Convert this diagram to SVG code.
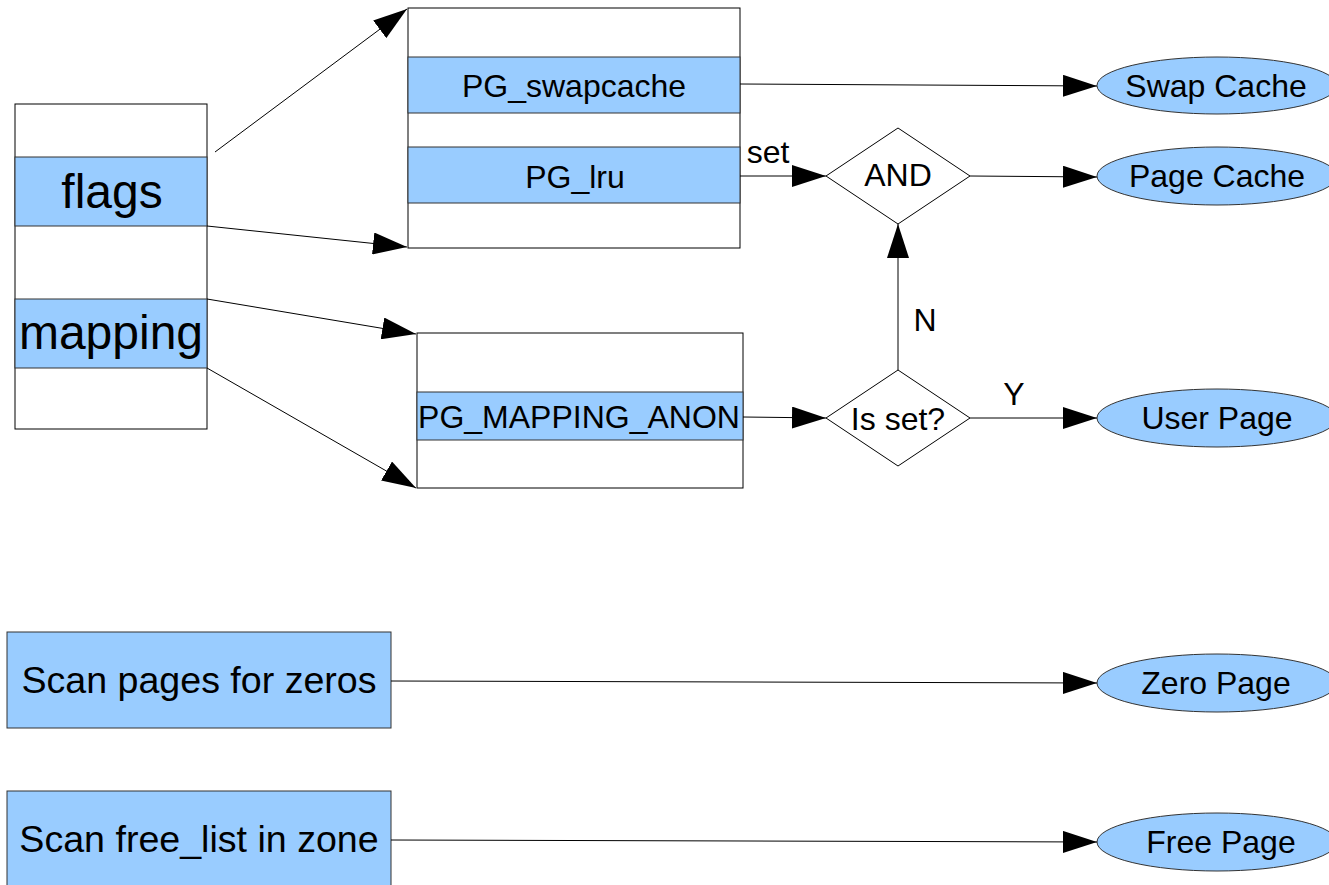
<svg xmlns="http://www.w3.org/2000/svg" width="1329" height="885" viewBox="0 0 1329 885">
  <style>
    .box { fill: #ffffff; stroke: #000; stroke-width: 1; }
    .band { fill: #99ccff; stroke: #333; stroke-width: 1; }
    .oval { fill: #99ccff; stroke: #333; stroke-width: 1; }
    .dia { fill: #ffffff; stroke: #000; stroke-width: 1; }
    .wire { fill: none; stroke: #000; stroke-width: 1; marker-end: url(#arrow); }
    .lbl { font-family: "Liberation Sans", Arial, sans-serif; font-size: 32px; fill: #000; text-anchor: middle; }
    .big { font-size: 48px; }
    .scan { font-size: 37.6px; }
  </style>
  <defs>
    <marker id="arrow" markerUnits="userSpaceOnUse" markerWidth="34" markerHeight="22" refX="34" refY="11" orient="auto">
      <path d="M0,0 L34,11 L0,22 z" fill="#000"/>
    </marker>
  </defs>

  <!-- struct page -->
  <g id="page-struct">
    <rect class="box" x="15" y="104" width="192" height="325"/>
    <rect class="band" x="15" y="157" width="192" height="69"/>
    <rect class="band" x="15" y="299" width="192" height="69"/>
    <text class="lbl big" x="112" y="208">flags</text>
    <text class="lbl big" x="111" y="349">mapping</text>
  </g>

  <!-- flag bits -->
  <g id="flags-bits">
    <rect class="box" x="408" y="8" width="332" height="240"/>
    <rect class="band" x="408" y="57" width="332" height="56"/>
    <rect class="band" x="408" y="147" width="332" height="56"/>
    <text class="lbl" x="574" y="97">PG_swapcache</text>
    <text class="lbl" x="575" y="188">PG_lru</text>
  </g>

  <!-- mapping bits -->
  <g id="mapping-bits">
    <rect class="box" x="417" y="333" width="326" height="155"/>
    <rect class="band" x="417" y="392" width="326" height="48"/>
    <text class="lbl" x="579" y="428">PG_MAPPING_ANON</text>
  </g>

  <!-- decisions -->
  <g id="and-gate">
    <polygon class="dia" points="826,176 898,128 970,176 898,224"/>
    <text class="lbl" x="898" y="186">AND</text>
  </g>
  <g id="is-set">
    <polygon class="dia" points="826,418 898,370 970,418 898,466"/>
    <text class="lbl" x="898" y="430">Is set?</text>
  </g>

  <!-- scanners -->
  <g id="scan-zeros">
    <rect class="band" x="7" y="632" width="384" height="96"/>
    <text class="lbl scan" x="199" y="693">Scan pages for zeros</text>
  </g>
  <g id="scan-free">
    <rect class="band" x="7" y="791" width="384" height="100"/>
    <text class="lbl scan" x="199" y="852">Scan free_list in zone</text>
  </g>

  <!-- page kinds -->
  <g id="swap-cache">
    <ellipse class="oval" cx="1217" cy="85.5" rx="120" ry="28.5"/>
    <text class="lbl" x="1216" y="97">Swap Cache</text>
  </g>
  <g id="page-cache">
    <ellipse class="oval" cx="1217" cy="176" rx="120" ry="29"/>
    <text class="lbl" x="1217" y="187">Page Cache</text>
  </g>
  <g id="user-page">
    <ellipse class="oval" cx="1217" cy="418" rx="120" ry="29"/>
    <text class="lbl" x="1217" y="429">User Page</text>
  </g>
  <g id="zero-page">
    <ellipse class="oval" cx="1217" cy="683" rx="120" ry="29"/>
    <text class="lbl" x="1216" y="694">Zero Page</text>
  </g>
  <g id="free-page">
    <ellipse class="oval" cx="1217" cy="842" rx="120" ry="29"/>
    <text class="lbl" x="1221" y="853">Free Page</text>
  </g>

  <!-- connectors -->
  <g id="connectors">
    <line class="wire" x1="215" y1="152" x2="407" y2="9"/>
    <line class="wire" x1="207" y1="226" x2="407" y2="247"/>
    <line class="wire" x1="207" y1="299" x2="416" y2="334"/>
    <line class="wire" x1="207" y1="368" x2="416" y2="488"/>
    <line class="wire" x1="740" y1="84" x2="1097" y2="86"/>
    <line class="wire" x1="740" y1="176" x2="826" y2="176"/>
    <line class="wire" x1="970" y1="176" x2="1097" y2="177"/>
    <line class="wire" x1="743" y1="417" x2="826" y2="418"/>
    <line class="wire" x1="970" y1="418" x2="1097" y2="418"/>
    <line class="wire" x1="898" y1="370" x2="898" y2="224"/>
    <line class="wire" x1="391" y1="681" x2="1097" y2="683"/>
    <line class="wire" x1="391" y1="840" x2="1097" y2="842"/>
    <text class="lbl" x="768" y="163">set</text>
    <text class="lbl" x="925" y="331">N</text>
    <text class="lbl" x="1014" y="405">Y</text>
  </g>
</svg>
